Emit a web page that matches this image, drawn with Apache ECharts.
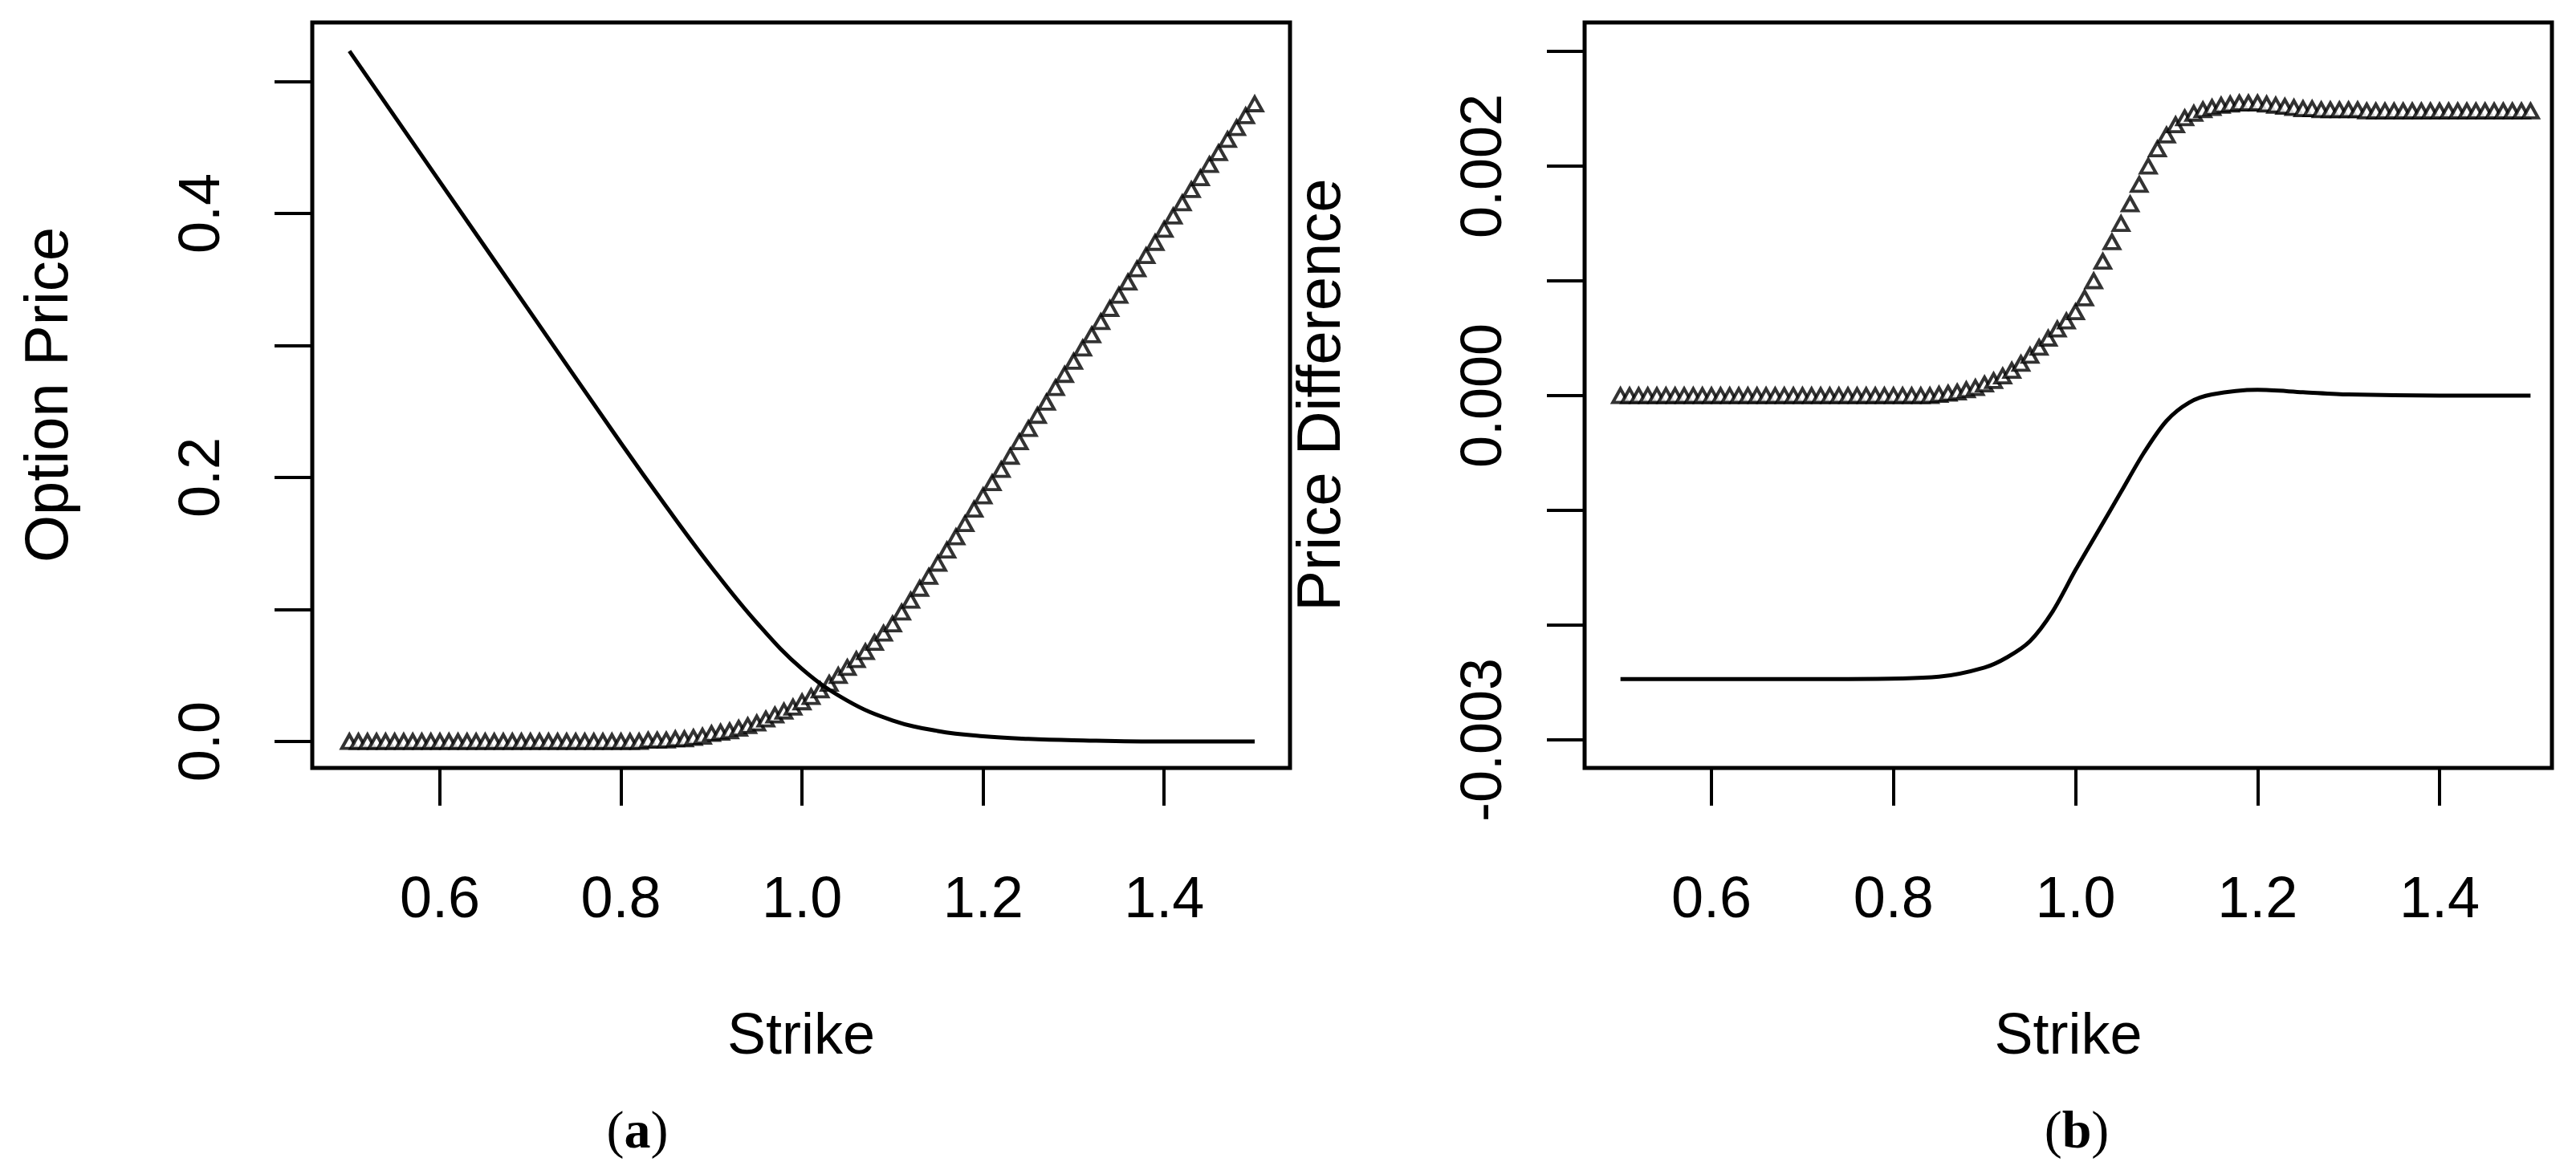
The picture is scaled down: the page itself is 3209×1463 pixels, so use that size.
<!DOCTYPE html>
<html>
<head>
<meta charset="utf-8">
<script src="https://cdn.jsdelivr.net/npm/echarts@6/dist/echarts.min.js"></script>
<style>
    html, body { margin: 0; padding: 0; background: #fff; }
    #chart { width: 3209px; height: 1463px; }
</style>
</head>
<body>
<div id="chart"></div>
<script>
// strike grid 0.50 .. 1.50, step 0.01
const strikes = [];
for (let i = 0; i <= 100; i++) strikes.push(+(0.5 + i / 100).toFixed(2));

// panel (a): put prices, one per strike (triangles)
const putPrices = [
    0,0,0,0,0,0,0,0,0,0, 0,0,0,0,0,0,0,0,0,0, 0,0,0,0,0,0,0,0,0,0, 0,0,0,
    0.001,0.001,0.001,0.002,0.002,0.003,0.004,
    0.006,0.007,0.008,0.010,0.012,0.014,0.017,0.020,0.023,0.026,
    0.030,0.034,0.039,0.044,0.050,0.056,0.062,0.068,0.075,0.082,
    0.089,0.098,0.107,0.116,0.125,0.135,0.145,0.155,0.165,0.176,
    0.186,0.196,0.206,0.216,0.227,0.237,0.247,0.257,0.268,0.278,
    0.288,0.298,0.308,0.318,0.328,0.338,0.348,0.358,0.368,0.378,
    0.388,0.398,0.408,0.418,0.427,0.437,0.446,0.456,0.465,0.474,0.483
];
// panel (a): call prices (line)
const callStrikes = [0.5, 0.6, 0.7, 0.8, 0.85, 0.9, 0.95, 1.0, 1.05, 1.1, 1.15, 1.2, 1.25, 1.3, 1.4, 1.5];
const callPrices  = [0.523, 0.424, 0.325, 0.226, 0.178, 0.132, 0.090, 0.055, 0.031, 0.016, 0.008, 0.004, 0.002, 0.001, 0, 0];

// panel (b): price differences (triangles)
const diffTri = [
    0,0,0,0,0,0,0,0,0,0, 0,0,0,0,0,0,0,0,0,0, 0,0,0,0,0,0,0,0,0,0, 0,0,0,0,0,
    0.00001,0.00002,0.00003,0.00005,0.00007,
    0.00010,0.00013,0.00017,0.00022,0.00028,0.00035,0.00042,0.00050,0.00058,0.00065,
    0.00073,0.00085,0.00100,0.00117,0.00134,0.00150,0.00167,0.00184,0.00200,0.00215,
    0.00227,0.00236,0.00242,0.00246,0.00249,0.00251,0.00253,0.00254,0.00255,0.00255,
    0.00255,0.00254,0.00253,0.00252,0.00251,0.00250,0.00250,0.00249,0.00249,0.00249,
    0.00249,0.00249,0.00248,0.00248,0.00248,0.00248,0.00248,0.00248,0.00248,0.00248,
    0.00248,0.00248,0.00248,0.00248,0.00248,0.00248,0.00248,0.00248,0.00248,0.00248,0.00248
];
// panel (b): price differences (line)
const diffLineStrikes = [0.5, 0.75, 0.85, 0.9, 0.925, 0.95, 0.975, 1.0, 1.025, 1.05, 1.075, 1.1, 1.125, 1.15, 1.2, 1.25, 1.3, 1.4, 1.5];
const diffLine = [-0.00247, -0.00247, -0.00245, -0.00237, -0.00228, -0.00214, -0.00188, -0.00152, -0.00118,
    -0.00084, -0.00050, -0.00022, -0.00006, 0.00001, 0.00005, 0.00003, 0.00001, 0, 0];

const xLabels = [0.6, 0.8, 1.0, 1.2, 1.4];
const yTicksA = [0, 0.1, 0.2, 0.3, 0.4, 0.5];
const yLabelsA = [0, 0.2, 0.4];
const yTicksB = [-0.003, -0.002, -0.001, 0, 0.001, 0.002, 0.003];
const yLabelsB = [-0.003, 0, 0.002];

const FONT = 'Liberation Sans';
const chart = echarts.init(document.getElementById('chart'));

function xAxis(idx, min, max) {
    return {
        type: 'value', gridIndex: idx, min: min, max: max,
        axisLine: {show: false, onZero: false},
        splitLine: {show: false},
        axisTick: {show: true, length: 47, customValues: xLabels, lineStyle: {color: '#000', width: 4}},
        axisLabel: {customValues: xLabels, margin: 130, color: '#000', fontSize: 72, fontFamily: FONT,
            formatter: v => v.toFixed(1)},
        name: 'Strike', nameLocation: 'middle', nameGap: 300,
        nameTextStyle: {color: '#000', fontSize: 72, fontFamily: FONT}
    };
}

function yAxis(idx, min, max, ticks, labels, digits, margin) {
    return {
        type: 'value', gridIndex: idx, min: min, max: max,
        axisLine: {show: false, onZero: false},
        splitLine: {show: false},
        axisTick: {show: true, length: 47, customValues: ticks, lineStyle: {color: '#000', width: 4}},
        axisLabel: {customValues: labels, margin: margin, rotate: 90, color: '#000', fontSize: 72, fontFamily: FONT,
            formatter: v => v.toFixed(digits)}
    };
}

const triStyle = {color: '#fff', borderColor: '#000', borderWidth: 4};

function panelTag(letter, x) {
    return {type: 'text', x: x, y: 1413,
        style: {text: '({b|' + letter + '})', font: '66px "Liberation Serif"', fill: '#000',
            align: 'center', verticalAlign: 'middle',
            rich: {b: {fontWeight: 'bold', fontSize: 66, fontFamily: 'Liberation Serif'}}}};
}

chart.setOption({
    backgroundColor: '#fff',
    animation: false,
    grid: [
        {left: 389, right: 1602, top: 28, height: 929, show: true, borderColor: '#000', borderWidth: 5, backgroundColor: 'transparent'},
        {left: 1974, right: 30, top: 28, height: 929, show: true, borderColor: '#000', borderWidth: 5, backgroundColor: 'transparent'}
    ],
    xAxis: [xAxis(0, 0.459, 1.539), xAxis(1, 0.4606, 1.5235)],
    yAxis: [
        yAxis(0, -0.02, 0.5447, yTicksA, yLabelsA, 1, 100),
        yAxis(1, -0.003245, 0.003252, yTicksB, yLabelsB, 3, 88)
    ],
    graphic: [
        {type: 'text', x: 63, y: 492, rotation: Math.PI / 2,
            style: {text: 'Option Price', font: '76px "Liberation Sans"', fill: '#000', align: 'center', verticalAlign: 'middle'}},
        {type: 'text', x: 1648, y: 492, rotation: Math.PI / 2,
            style: {text: 'Price Difference', font: '76px "Liberation Sans"', fill: '#000', align: 'center', verticalAlign: 'middle'}},
        panelTag('a', 794),
        panelTag('b', 2587)
    ],
    series: [
        {type: 'line', xAxisIndex: 0, yAxisIndex: 0, smooth: 0.4, symbol: 'none',
            lineStyle: {color: '#000', width: 5},
            data: callStrikes.map((k, i) => [k, callPrices[i]])},
        {type: 'scatter', xAxisIndex: 0, yAxisIndex: 0, symbol: 'triangle', symbolSize: [19, 17],
            itemStyle: triStyle, data: strikes.map((k, i) => [k, putPrices[i]])},
        {type: 'line', xAxisIndex: 1, yAxisIndex: 1, smooth: 0.3, symbol: 'none',
            lineStyle: {color: '#000', width: 5},
            data: diffLineStrikes.map((k, i) => [k, diffLine[i]])},
        {type: 'scatter', xAxisIndex: 1, yAxisIndex: 1, symbol: 'triangle', symbolSize: [19, 17],
            itemStyle: triStyle, data: strikes.map((k, i) => [k, diffTri[i]])}
    ]
});
</script>
</body>
</html>
